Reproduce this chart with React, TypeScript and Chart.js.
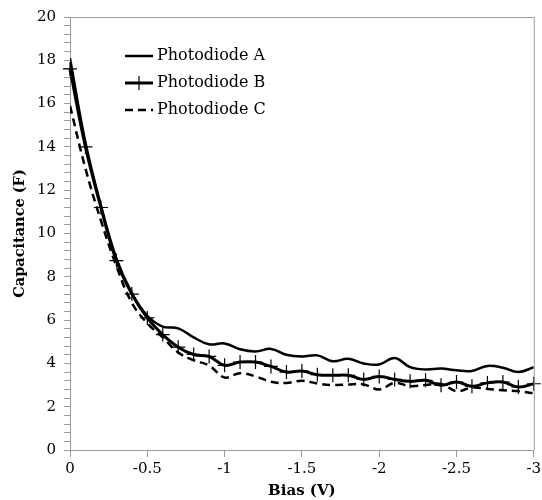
import React, { useEffect, useRef } from "react";
import { Chart, registerables } from "chart.js";

Chart.register(...registerables);

const biasV = [
  0, -0.1, -0.2, -0.3, -0.4, -0.5, -0.6, -0.7, -0.8, -0.9, -1.0,
  -1.1, -1.2, -1.3, -1.4, -1.5, -1.6, -1.7, -1.8, -1.9, -2.0,
  -2.1, -2.2, -2.3, -2.4, -2.5, -2.6, -2.7, -2.8, -2.9, -3.0,
];

const photodiodeA = [
  18.1, 14.2, 11.3, 8.85, 7.25, 6.2, 5.7, 5.62, 5.2, 4.88, 4.92,
  4.65, 4.55, 4.67, 4.4, 4.32, 4.37, 4.1, 4.21, 4.0, 3.95,
  4.25, 3.83, 3.72, 3.76, 3.68, 3.65, 3.88, 3.8, 3.6, 3.82,
];

const photodiodeB = [
  17.6, 14.0, 11.2, 8.75, 7.2, 6.1, 5.33, 4.75, 4.41, 4.32, 3.91,
  4.06, 4.06, 3.86, 3.6, 3.65, 3.48, 3.45, 3.45, 3.26, 3.4,
  3.26, 3.17, 3.22, 2.99, 3.14, 2.94, 3.1, 3.14, 2.91, 3.06,
];

const photodiodeC = [
  15.9, 13.0, 10.6, 8.5, 6.8, 5.85, 5.2, 4.5, 4.15, 3.9, 3.35,
  3.55, 3.4, 3.15, 3.1, 3.2, 3.07, 3.0, 3.03, 3.03, 2.8,
  3.1, 2.95, 3.0, 3.05, 2.72, 2.88, 2.82, 2.76, 2.72, 2.62,
];

const seriesNames = ["Photodiode A", "Photodiode B", "Photodiode C"];
const yTitle = "Capacitance (F)";
const xTitle = "Bias (V)";

const FONT = "'DejaVu Serif', serif";
const AXIS_GRAY = "#9a9a9a";

const legendPlugin = {
  id: "insideLegend",
  afterDraw(chart: any) {
    const ctx = chart.ctx;
    ctx.save();
    const ca = chart.chartArea;
    ctx.strokeStyle = AXIS_GRAY;
    ctx.lineWidth = 1;
    ctx.setLineDash([]);
    ctx.beginPath();
    ctx.moveTo(ca.left, ca.top + 0.5);
    ctx.lineTo(ca.right + 0.5, ca.top + 0.5);
    ctx.lineTo(ca.right + 0.5, ca.bottom);
    ctx.stroke();

    const x0 = 125;
    const x1 = 153;
    chart.data.datasets.forEach((ds: any, i: number) => {
      const y = 56 + i * 27;
      ctx.strokeStyle = "#000";
      ctx.lineWidth = ds.borderWidth;
      ctx.setLineDash(ds.borderDash || []);
      ctx.beginPath();
      ctx.moveTo(x0, y);
      ctx.lineTo(x1, y);
      ctx.stroke();
      ctx.setLineDash([]);
      if (ds.pointStyle === "cross") {
        ctx.lineWidth = 1.2;
        ctx.beginPath();
        ctx.moveTo(139, y - 7);
        ctx.lineTo(139, y + 7);
        ctx.stroke();
      }
      ctx.fillStyle = "#000";
      ctx.font = `16px ${FONT}`;
      ctx.textAlign = "left";
      ctx.textBaseline = "middle";
      ctx.fillText(ds.label, 157, y);
    });
    ctx.restore();
  },
};

export default function App() {
  const canvasRef = useRef<HTMLCanvasElement | null>(null);

  useEffect(() => {
    if (!canvasRef.current) return;
    const mk = (vals: number[]) => biasV.map((x, i) => ({ x, y: vals[i] }));
    const chart = new Chart(canvasRef.current, {
      type: "line",
      data: {
        datasets: [
          {
            label: seriesNames[0],
            data: mk(photodiodeA),
            borderColor: "#000",
            borderWidth: 2.5,
            pointRadius: 0,
            tension: 0.4,
          },
          {
            label: seriesNames[1],
            data: mk(photodiodeB),
            borderColor: "#000",
            borderWidth: 3,
            pointStyle: "cross",
            pointRadius: 7,
            pointBorderWidth: 1.2,
            pointBorderColor: "#000",
            pointHoverRadius: 7,
            tension: 0.4,
            clip: false,
          },
          {
            label: seriesNames[2],
            data: mk(photodiodeC),
            borderColor: "#000",
            borderWidth: 2.5,
            borderDash: [8, 5],
            pointRadius: 0,
            tension: 0.4,
          },
        ],
      } as any,
      options: {
        responsive: false,
        animation: false,
        devicePixelRatio: 1,
        layout: { padding: { top: 15, right: 8, left: 0, bottom: 0 } },
        plugins: {
          legend: { display: false },
          tooltip: { enabled: false },
        },
        scales: {
          x: {
            type: "linear",
            min: -3,
            max: 0,
            reverse: true,
            afterFit: (s: any) => {
              s.height = 50;
              s.paddingRight = 0;
              s.paddingLeft = 0;
            },
            ticks: {
              stepSize: 0.5,
              color: "#000",
              padding: 3,
              maxRotation: 0,
              font: { family: FONT, size: 15 },
              callback: (v: any) => (Math.abs(v) < 1e-9 ? "0" : String(Number(v))),
            },
            grid: {
              drawOnChartArea: false,
              drawTicks: true,
              tickLength: 7,
              color: AXIS_GRAY,
            },
            border: { color: AXIS_GRAY, width: 1 },
            title: {
              display: true,
              text: xTitle,
              color: "#000",
              font: { family: FONT, size: 15, weight: "bold" },
              padding: { top: 0, bottom: 0 },
            },
          },
          y: {
            type: "linear",
            min: 0,
            max: 20,
            afterFit: (s: any) => {
              s.width = 70;
            },
            ticks: {
              stepSize: 0.4,
              autoSkip: false,
              color: "#000",
              padding: 8,
              font: { family: FONT, size: 15 },
              callback: (v: any) => {
                const n = Number(v);
                return Math.abs(n / 2 - Math.round(n / 2)) < 1e-6 ? String(Math.round(n)) : "";
              },
            },
            grid: {
              drawOnChartArea: false,
              drawTicks: true,
              tickLength: 6,
              color: AXIS_GRAY,
            },
            border: { color: AXIS_GRAY, width: 1 },
            title: {
              display: true,
              text: yTitle,
              color: "#000",
              font: { family: FONT, size: 14.5, weight: "bold" },
              padding: { top: 12, bottom: 0 },
            },
          },
        },
      } as any,
      plugins: [legendPlugin],
    });
    return () => chart.destroy();
  }, []);

  return (
    <div style={{ position: "absolute", left: 0, top: 0, width: 542, height: 500, background: "#fff" }}>
      <canvas ref={canvasRef} width={542} height={500} style={{ width: 542, height: 500, display: "block" }} />
    </div>
  );
}
